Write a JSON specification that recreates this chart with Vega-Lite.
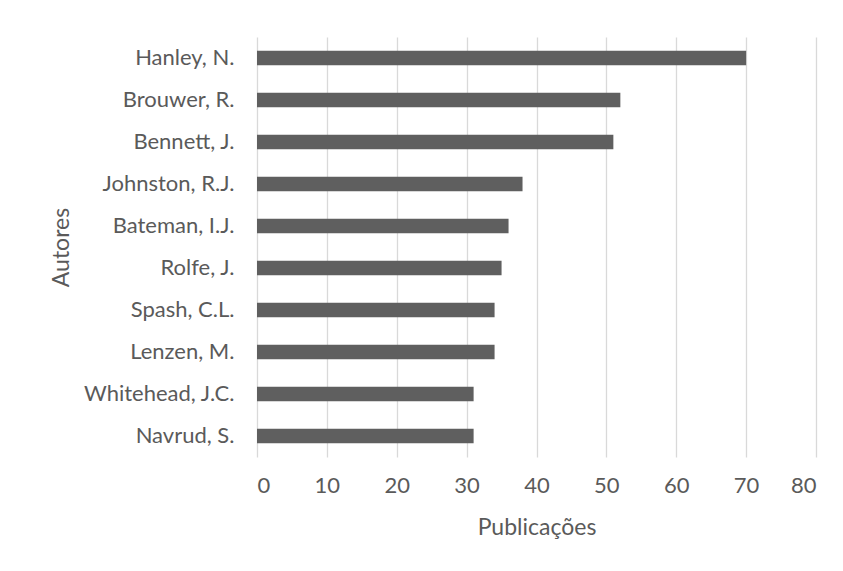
{
  "$schema": "https://vega.github.io/schema/vega-lite/v6.json",
  "autosize": {"type": "none"},
  "padding": {"left": 257, "top": 37, "right": 27, "bottom": 114},
  "width": 559,
  "height": 420,
  "background": "white",
  "data": {
    "values": [
      {"autor": "Hanley, N.", "pub": 70},
      {"autor": "Brouwer, R.", "pub": 52},
      {"autor": "Bennett, J.", "pub": 51},
      {"autor": "Johnston, R.J.", "pub": 38},
      {"autor": "Bateman, I.J.", "pub": 36},
      {"autor": "Rolfe, J.", "pub": 35},
      {"autor": "Spash, C.L.", "pub": 34},
      {"autor": "Lenzen, M.", "pub": 34},
      {"autor": "Whitehead, J.C.", "pub": 31},
      {"autor": "Navrud, S.", "pub": 31}
    ]
  },
  "mark": {"type": "bar", "color": "#5f5f5f"},
  "encoding": {
    "y": {
      "field": "autor",
      "type": "nominal",
      "sort": ["Hanley, N.", "Brouwer, R.", "Bennett, J.", "Johnston, R.J.", "Bateman, I.J.", "Rolfe, J.", "Spash, C.L.", "Lenzen, M.", "Whitehead, J.C.", "Navrud, S."],
      "scale": {"paddingInner": 0.65, "paddingOuter": 0.325},
      "axis": {
        "title": "Autores",
        "domain": false,
        "ticks": false,
        "grid": false,
        "labelPadding": 23,
        "labelFont": "Lato",
        "labelFontSize": 22,
        "labelColor": "#5a5a5a",
        "labelLimit": 300,
        "titleFont": "Lato",
        "titleFontSize": 23,
        "titleFontWeight": "normal",
        "titleColor": "#5a5a5a",
        "titleX": -196,
        "titleY": 210,
        "titleBaseline": "middle",
        "titleAngle": -90
      }
    },
    "x": {
      "field": "pub",
      "type": "quantitative",
      "scale": {"domain": [0, 80], "nice": false},
      "axis": {
        "title": "Publicações",
        "values": [0, 10, 20, 30, 40, 50, 60, 70, 80],
        "domain": false,
        "ticks": false,
        "grid": true,
        "gridColor": "#d9d9d9",
        "gridWidth": 1.3,
        "labelPadding": 18,
        "labelFont": "Lato",
        "labelFontSize": 22,
        "labelColor": "#5a5a5a",
        "titleFont": "Lato",
        "titleFontSize": 23,
        "titleFontWeight": "normal",
        "titleColor": "#5a5a5a",
        "titleY": 70,
        "titleBaseline": "middle"
      }
    }
  },
  "config": {"view": {"stroke": null}}
}
